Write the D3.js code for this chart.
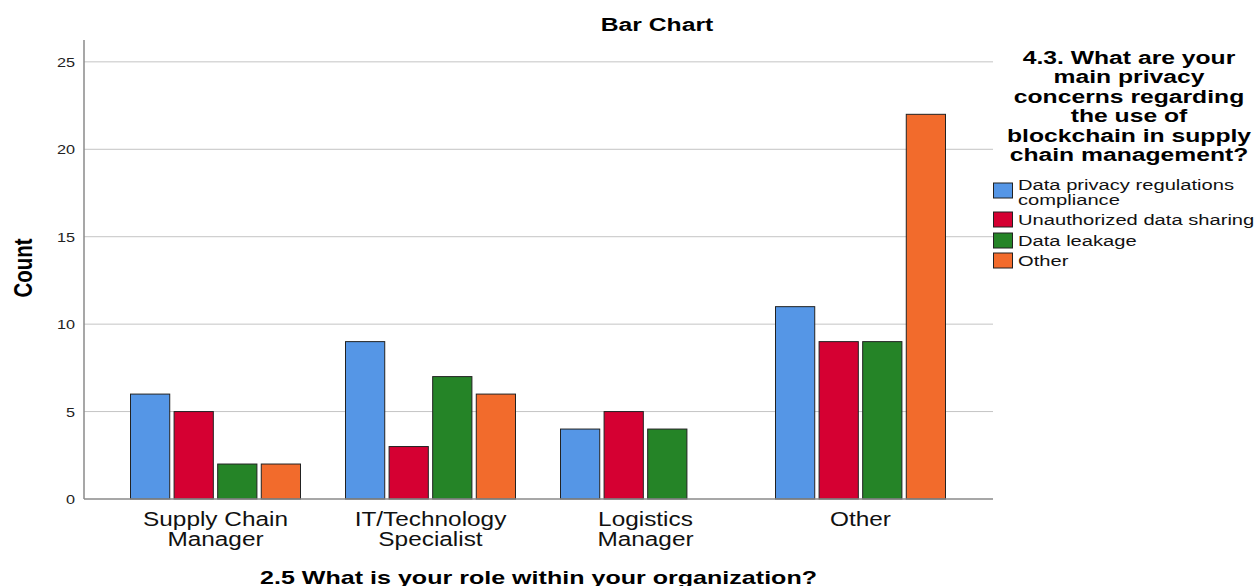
<!DOCTYPE html>
<html>
<head>
<meta charset="utf-8">
<script src="https://cdn.jsdelivr.net/npm/d3@7"></script>
<style>
  html, body { margin: 0; padding: 0; background: #fff; }
  svg { display: block; font-family: "Liberation Sans", Arial, sans-serif; }
</style>
</head>
<body>
<svg id="chart" width="1258" height="586"></svg>
<script>
// ---- data ----
const categories = ["Supply Chain Manager", "IT/Technology Specialist", "Logistics Manager", "Other"];
const categoryLines = [["Supply Chain", "Manager"], ["IT/Technology", "Specialist"], ["Logistics", "Manager"], ["Other"]];
const seriesNames = ["Data privacy regulations compliance", "Unauthorized data sharing", "Data leakage", "Other"];
const seriesLines = [["Data privacy regulations", "compliance"], ["Unauthorized data sharing"], ["Data leakage"], ["Other"]];
const dataPrivacyCompliance = [6, 9, 4, 11];
const unauthorizedSharing = [5, 3, 5, 9];
const dataLeakage = [2, 7, 4, 9];
const otherConcern = [2, 6, 0, 22];
const yTicks = [0, 5, 10, 15, 20, 25];
const seriesColors = ["#5596e6", "#d50032", "#258427", "#f26b2c"];
const chartTitle = "Bar Chart";
const xTitle = "2.5 What is your role within your organization?";
const yTitle = "Count";
const legendTitleLines = ["4.3. What are your", "main privacy", "concerns regarding", "the use of", "blockchain in supply", "chain management?"];

const seriesValues = [dataPrivacyCompliance, unauthorizedSharing, dataLeakage, otherConcern];

// ---- layout ----
const SX = 1.3; // horizontal text stretch seen in the reference
const svg = d3.select("#chart");
const plotLeft = 84, plotRight = 993, plotBottom = 499, plotTop = 40;

const x0 = d3.scaleBand().domain(categories).range([108, 968]).padding(0);
const groupWidth = 170;
const x1 = d3.scaleBand().domain(d3.range(seriesNames.length)).range([0, groupWidth]).paddingInner(0.1);
const y = d3.scaleLinear().domain([0, 26.25]).range([plotBottom, plotTop]);

function sText(parent, x, yy, str, opts) {
  const g = parent.append("g").attr("transform", `translate(${x},${yy}) scale(${opts.sx || SX},1)`);
  return g.append("text")
    .attr("x", 0).attr("y", 0)
    .attr("text-anchor", opts.anchor || "start")
    .attr("font-size", opts.size)
    .attr("font-weight", opts.weight || "normal")
    .attr("fill", opts.fill || "#000")
    .text(str);
}

// gridlines
svg.append("g").selectAll("line").data(yTicks.filter(d => d > 0)).join("line")
  .attr("x1", plotLeft).attr("x2", plotRight)
  .attr("y1", d => y(d)).attr("y2", d => y(d))
  .attr("stroke", "#c4c4c4").attr("stroke-width", 1);

// y tick labels
yTicks.forEach(t => sText(svg, 75, y(t) + 5, String(t), { size: 12.5, anchor: "end", fill: "#222" }));

// bars
const groups = svg.append("g").selectAll("g").data(categories).join("g")
  .attr("transform", d => `translate(${x0(d) + (x0.bandwidth() - groupWidth) / 2},0)`);
groups.selectAll("rect")
  .data((d, i) => seriesValues.map((arr, s) => ({ s, v: arr[i] })).filter(e => e.v > 0))
  .join("rect")
  .attr("x", e => x1(e.s))
  .attr("width", x1.bandwidth())
  .attr("y", e => y(e.v))
  .attr("height", e => y(0) - y(e.v))
  .attr("fill", e => seriesColors[e.s])
  .attr("stroke", "#222")
  .attr("stroke-width", 1);

// axes lines
svg.append("line").attr("x1", plotLeft).attr("x2", plotLeft).attr("y1", plotTop).attr("y2", plotBottom)
  .attr("stroke", "#8a8a8a").attr("stroke-width", 1.5);
svg.append("line").attr("x1", plotLeft).attr("x2", plotRight).attr("y1", plotBottom).attr("y2", plotBottom)
  .attr("stroke", "#8a8a8a").attr("stroke-width", 1.5);

// x category labels
categories.forEach((c, i) => {
  const cx = x0(c) + x0.bandwidth() / 2;
  categoryLines[i].forEach((ln, j) => sText(svg, cx, 526 + j * 20, ln, { size: 19.5, anchor: "middle", sx: 1.25, fill: "#111" }));
});

// titles
sText(svg, 657, 31, chartTitle, { size: 19, weight: "bold", anchor: "middle" });
sText(svg, (plotLeft + plotRight) / 2, 584, xTitle, { size: 19, weight: "bold", anchor: "middle", sx: 1.32 });
svg.append("g").attr("transform", "translate(32,268) scale(1.3,1) rotate(-90)")
  .append("text").attr("text-anchor", "middle").attr("font-size", 20.5).attr("font-weight", "bold").text(yTitle);

// legend
legendTitleLines.forEach((ln, i) => sText(svg, 1129, 64 + i * 19.4, ln, { size: 19, weight: "bold", anchor: "middle" }));
const swatchY = [183, 212, 233, 253];
const labelY = [190, 225, 246, 266];
seriesNames.forEach((s, i) => {
  svg.append("rect").attr("x", 993.5).attr("y", swatchY[i]).attr("width", 19).attr("height", 15)
    .attr("fill", seriesColors[i]).attr("stroke", "#222").attr("stroke-width", 1);
  seriesLines[i].forEach((ln, j) => sText(svg, 1018, labelY[i] + j * 15, ln, { size: 15.5, fill: "#111" }));
});
</script>
</body>
</html>
